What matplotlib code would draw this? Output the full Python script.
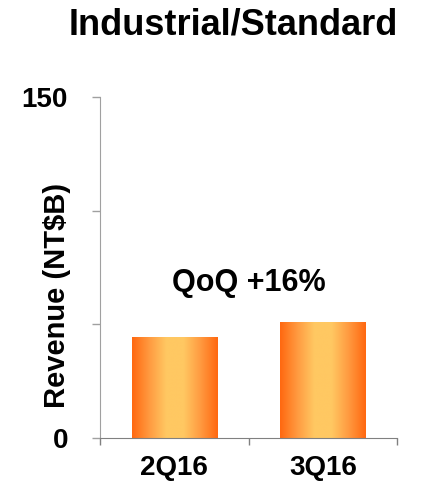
import matplotlib
matplotlib.use('Agg')
import matplotlib.pyplot as plt
import numpy as np
from matplotlib.colors import LinearSegmentedColormap

plt.rcParams['font.family'] = ['Liberation Sans', 'DejaVu Sans']

# quarterly revenue, NT$ billions
quarters = ['2Q16', '3Q16']
revenue = [44.0, 51.0]
qoq_text = 'QoQ +16%'

bar_width = 0.575
orange = LinearSegmentedColormap.from_list(
    'bar_grad', ['#ff6810', '#ff9a40', '#ffc862', '#ffc862', '#ff9a40', '#ff6810'])

fig = plt.figure(figsize=(4.21, 4.87), dpi=100)
ax = fig.add_axes([0.2375, 0.1006, 0.7066, 0.7002])

grad = np.linspace(0, 1, 256).reshape(1, -1)
for i, v in enumerate(revenue):
    x0 = i - bar_width / 2
    ax.imshow(grad, cmap=orange, aspect='auto', interpolation='bilinear',
              extent=[x0, x0 + bar_width, 0, v], zorder=2)

ax.set_xlim(-0.5, 1.5)
ax.set_ylim(0, 150)

# category boundaries as ticks, labels placed at the bar centres
ax.set_xticks([-0.5, 0.5, 1.5])
ax.set_xticklabels([])
ax.set_xticks(range(len(quarters)), minor=True)
ax.set_xticklabels(quarters, minor=True, fontsize=20, fontweight='bold')
ax.tick_params(axis='x', which='minor', length=0, pad=12)
ax.tick_params(axis='x', which='major', length=5, color='#808080', width=1)

ax.set_yticks([0, 50, 100, 150])
ax.set_yticklabels(['0', '', '', '150'], fontsize=20, fontweight='bold')
ax.tick_params(axis='y', length=6, color='#a0a0a0', width=1, pad=17)

for side in ['top', 'right']:
    ax.spines[side].set_visible(False)
ax.spines['left'].set_color('#a0a0a0')
ax.spines['bottom'].set_color('#808080')

fig.text(57 / 421, 1 - 295 / 487, 'Revenue (NT$B)', rotation=90,
         ha='center', va='center', fontsize=21, fontweight='bold')
ax.text(0.5, 68, qoq_text, ha='center', va='center', fontsize=22, fontweight='bold')

fig.text(0.553, 1 - 25 / 487, 'Industrial/Standard', ha='center', va='center',
         fontsize=26, fontweight='bold')

fig.savefig('out.png', dpi=100, facecolor='white')
